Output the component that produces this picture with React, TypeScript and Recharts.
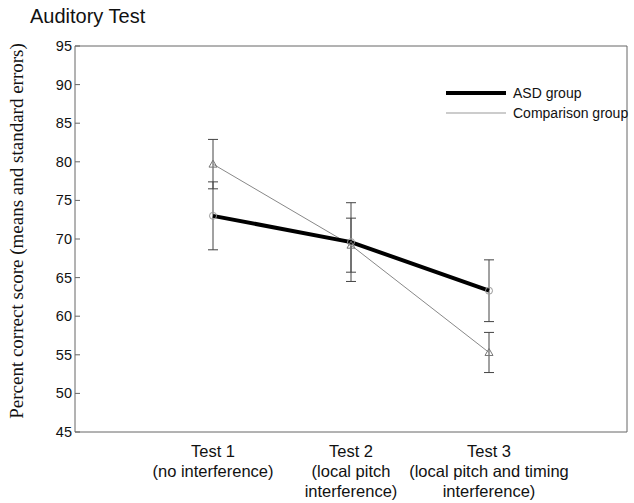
import { LineChart, Line, XAxis, YAxis, ErrorBar, ReferenceLine } from 'recharts';

// Auditory test scores
const testPositions = [1, 2, 3];
const testLabels = [
  ['Test 1', '(no interference)'],
  ['Test 2', '(local pitch', 'interference)'],
  ['Test 3', '(local pitch and timing', 'interference)'],
];
const asdMeans = [73.0, 69.6, 63.3];
const asdErrors = [4.4, 5.1, 4.0];
const comparisonMeans = [79.7, 69.2, 55.3];
const comparisonErrors = [3.2, 3.5, 2.6];
const yTicks = [45, 50, 55, 60, 65, 70, 75, 80, 85, 90, 95];

const data = testPositions.map((x, i) => ({
  x,
  asd: asdMeans[i],
  asdErr: asdErrors[i],
  comparison: comparisonMeans[i],
  comparisonErr: comparisonErrors[i],
}));

const AXIS = '#666';
const FONT = '"Liberation Sans", Arial, sans-serif';

const XTick = (props: any) => {
  const { x, y, payload } = props;
  const lines = testLabels[payload.value - 1] || [];
  return (
    <text x={x} y={y} textAnchor="middle" fontFamily={FONT} fontSize={16.5} fill="#111">
      {lines.map((l, i) => (
        <tspan key={i} x={x} dy={i === 0 ? 17 : 20}>
          {l}
        </tspan>
      ))}
    </text>
  );
};

const LeftTick = (props: any) => {
  const { x, y, payload } = props;
  return (
    <g>
      <line x1={x + 3} x2={x + 8} y1={y} y2={y} stroke={AXIS} />
      <text x={x} y={y} dy={5} textAnchor="end" fontFamily={FONT} fontSize={14.5} fill="#111">
        {payload.value}
      </text>
    </g>
  );
};

const RightTick = (props: any) => {
  const { x, y } = props;
  return <line x1={x - 1} x2={x - 6} y1={y} y2={y} stroke={AXIS} />;
};

const Triangle = (props: any) => {
  const { cx, cy } = props;
  if (cx == null || cy == null) return null;
  return (
    <polygon
      points={`${cx},${cy - 4} ${cx - 4},${cy + 3} ${cx + 4},${cy + 3}`}
      fill="none"
      stroke="#777"
      strokeWidth={1}
    />
  );
};

const LegendBox = () => (
  <div
    style={{
      position: 'absolute',
      left: 446,
      top: 83,
      fontFamily: FONT,
      fontSize: 14,
      color: '#111',
      whiteSpace: 'nowrap',
    }}
  >
    <div style={{ display: 'flex', alignItems: 'center', height: 20 }}>
      <svg width={67} height={10}>
        <line x1={0} x2={60} y1={5} y2={5} stroke="#000" strokeWidth={4} />
      </svg>
      <span>ASD group</span>
    </div>
    <div style={{ display: 'flex', alignItems: 'center', height: 20 }}>
      <svg width={67} height={10}>
        <line x1={0} x2={60} y1={5} y2={5} stroke="#999" strokeWidth={1} />
      </svg>
      <span>Comparison group</span>
    </div>
  </div>
);

export default function App() {
  return (
    <div style={{ position: 'absolute', left: 0, top: 0, width: 634, height: 503, background: '#fff' }}>
      <div
        style={{
          position: 'absolute',
          left: 30,
          top: 5,
          fontFamily: FONT,
          fontSize: 20,
          color: '#111',
        }}
      >
        Auditory Test
      </div>
      <LineChart
        width={634}
        height={503}
        data={data}
        margin={{ top: 46, right: 6, left: 35, bottom: 11 }}
      >
        <XAxis
          type="number"
          dataKey="x"
          domain={[0, 4]}
          ticks={testPositions}
          tick={<XTick />}
          tickLine={false}
          axisLine={{ stroke: AXIS }}
          height={60}
          interval={0}
        />
        <YAxis
          yAxisId="l"
          domain={[45, 95]}
          ticks={yTicks}
          tick={<LeftTick />}
          tickLine={false}
          tickSize={0}
          tickMargin={3}
          axisLine={{ stroke: AXIS }}
          width={40}
          interval={0}
          label={{
            value: 'Percent correct score (means and standard errors)',
            angle: -90,
            position: 'center',
            dx: -39,
            dy: -8,
            style: { fontFamily: '"Liberation Serif", "Times New Roman", serif', fontSize: 19, fill: '#111' },
          }}
        />
        <YAxis
          yAxisId="r"
          orientation="right"
          domain={[45, 95]}
          ticks={yTicks}
          tick={<RightTick />}
          tickLine={false}
          tickSize={0}
          tickMargin={0}
          axisLine={{ stroke: AXIS }}
          width={1}
          interval={0}
        />
        <ReferenceLine yAxisId="l" y={95} stroke={AXIS} />
        <Line
          yAxisId="l"
          dataKey="comparison"
          stroke="#888"
          strokeWidth={1}
          dot={<Triangle />}
          activeDot={false}
          isAnimationActive={false}
        >
          <ErrorBar dataKey="comparisonErr" width={5} stroke="#444" strokeWidth={1} />
        </Line>
        <Line
          yAxisId="l"
          dataKey="asd"
          stroke="#000"
          strokeWidth={4}
          dot={{ r: 3.5, fill: 'none', stroke: '#999', strokeWidth: 1 }}
          activeDot={false}
          isAnimationActive={false}
        >
          <ErrorBar dataKey="asdErr" width={5} stroke="#444" strokeWidth={1} />
        </Line>
      </LineChart>
      <LegendBox />
    </div>
  );
}
